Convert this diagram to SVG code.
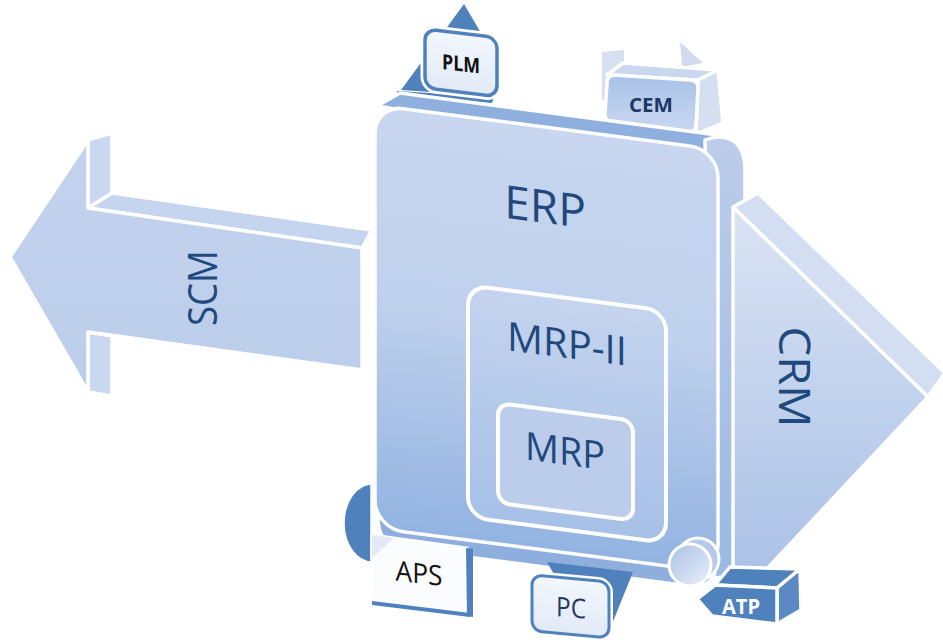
<svg xmlns="http://www.w3.org/2000/svg" width="943" height="644" viewBox="0 0 943 644">
<defs>
<style>
.w{stroke:#fff;stroke-width:3.5;stroke-linejoin:round}
.lbl{font-family:"Open Sans","Noto Sans","Liberation Sans",sans-serif;text-anchor:middle;fill:#1f497d}
.dk{fill:#4f81bd}
</style>
<linearGradient id="gFront" gradientUnits="userSpaceOnUse" x1="0" y1="105" x2="0" y2="530">
<stop offset="0" stop-color="#c8d6ef"/><stop offset="0.45" stop-color="#c0d1ed"/><stop offset="1" stop-color="#92b3e1"/>
</linearGradient>
<linearGradient id="gSide" gradientUnits="userSpaceOnUse" x1="0" y1="140" x2="0" y2="575">
<stop offset="0" stop-color="#bccdeb"/><stop offset="1" stop-color="#9ab9e4"/>
</linearGradient>
<linearGradient id="gMrp2" gradientUnits="userSpaceOnUse" x1="0" y1="273" x2="0" y2="505">
<stop offset="0" stop-color="#c5d4ee"/><stop offset="1" stop-color="#a6c0e7"/>
</linearGradient>
<linearGradient id="gCrm" gradientUnits="userSpaceOnUse" x1="0" y1="200" x2="0" y2="600">
<stop offset="0" stop-color="#dbe4f4"/><stop offset="1" stop-color="#a7bfe6"/>
</linearGradient>
<linearGradient id="gScm" x1="0" y1="0" x2="0" y2="1">
<stop offset="0" stop-color="#c3d3ee"/><stop offset="1" stop-color="#bccdeb"/>
</linearGradient>
<linearGradient id="gCard" x1="0" y1="0" x2="0" y2="1">
<stop offset="0" stop-color="#f3f7fd"/><stop offset="1" stop-color="#e2eaf7"/>
</linearGradient>
<linearGradient id="gCem" x1="0" y1="0" x2="0" y2="1">
<stop offset="0" stop-color="#a9c2e9"/><stop offset="1" stop-color="#cad8f0"/>
</linearGradient>
<linearGradient id="gDisc" x1="0" y1="0" x2="1" y2="1">
<stop offset="0" stop-color="#a9c0e6"/><stop offset="1" stop-color="#eaf0f9"/>
</linearGradient>
</defs>
<rect width="943" height="644" fill="#fff"/>

<g id="scm">
<polygon class="w" fill="#c9d8f0" points="88,140 112,133 112,200 88,208"/>
<polygon class="w" fill="#c9d8f0" points="88,332 112,336 112,396 88,392"/>
<polygon class="w" fill="#c6d5ef" points="88,208 112,193 372,230 362,248"/>
<polygon class="w" fill="url(#gScm)" points="10,257 88,140 88,208 362,248 362,370 88,332 88,392"/>
<text class="lbl" transform="translate(217,288) rotate(-90)" font-size="40" textLength="76" lengthAdjust="spacingAndGlyphs">SCM</text>
</g>

<g id="plm">
<polygon class="dk" points="401,90 464,4 498,62 492,96"/>
<polygon class="dk" points="397,91 494,97 492,103 397,98"/>
<g transform="matrix(1,0.12,0,1,0,-51)">
<rect x="425" y="29" width="72" height="59" rx="11" fill="url(#gCard)" stroke="#fff" stroke-width="9"/>
<rect x="425" y="29" width="72" height="59" rx="11" fill="url(#gCard)" stroke="#4f81bd" stroke-width="3.5"/>
<text x="461" y="67" font-family="'Open Sans','Noto Sans',sans-serif" font-weight="bold" font-size="21" text-anchor="middle" fill="#111" textLength="38" lengthAdjust="spacingAndGlyphs">PLM</text>
</g>
</g>

<g id="cem">
<polygon fill="#d6e0f1" points="602,52 624,50 624,100 602,100"/>
<polygon fill="#d0dbf0" points="680,42 682,67 703,63"/>
<polygon class="w" fill="#c9d7ef" points="607,75 623,63 718,70 698,80"/>
<polygon class="w" fill="#d5dff2" points="698,80 718,70 723,123 696,134"/>
<path class="w" fill="url(#gCem)" d="M615,75 L690,80 Q698,80 698,88 L696,126 Q695,134 687,133 L613,123 Q605,122 605,114 L607,83 Q607,75 615,75 Z"/>
<text x="651" y="112" font-family="'Open Sans','Noto Sans',sans-serif" font-weight="bold" font-size="20" text-anchor="middle" fill="#1f3864" textLength="44" lengthAdjust="spacingAndGlyphs">CEM</text>
</g>

<g id="aps-disc">
<path class="w" fill="#4f81bd" d="M372,483 A29 40 0 0 0 372,563 Z"/>
</g>

<g id="erp-back">
<path class="w" fill="#8fb0de" d="M377,106 L400,93 L725,136 Q745,140 745,160 L718,165 Z"/>
<path class="w" fill="url(#gSide)" d="M705,140 Q720,134 732,140 Q745,148 745,170 L745,548 Q745,574 725,577 L712,578 Z"/>
</g>

<g id="crm">
<polygon class="w" fill="#d3def2" points="733,207 758,193 945,373 928,397"/>
<polygon class="w" fill="url(#gCrm)" points="733,207 928,397 733,605"/>
<text class="lbl" transform="translate(779,377) rotate(90)" font-size="44" textLength="101" lengthAdjust="spacingAndGlyphs">CRM</text>
</g>

<g id="erp">
<g transform="matrix(1,0.13,0,1,0,-48.75)">
<path class="w" fill="#8eafdd" d="M378,500 L378,518 Q378,545 405,545 L690,545 Q716,545 716,518 L716,500 Z"/>
<rect class="w" x="375" y="105" width="343" height="423" rx="28" fill="url(#gFront)" stroke-width="4"/>
<text class="lbl" x="545" y="201" font-size="46">ERP</text>
<g id="mrp-ii">
<rect x="468" y="273" width="198" height="232" rx="20" fill="url(#gMrp2)" stroke="#fff" stroke-width="4"/>
<text class="lbl" x="567" y="333" font-size="40" textLength="120" lengthAdjust="spacingAndGlyphs">MRP-II</text>
</g>
<g id="mrp">
<rect x="498" y="387" width="135" height="100" rx="12" fill="#bccdeb" stroke="#fff" stroke-width="4"/>
<text class="lbl" x="565" y="440" font-size="39" textLength="80" lengthAdjust="spacingAndGlyphs">MRP</text>
</g>
</g>
</g>

<g id="aps">
<polygon fill="#fbfcfe" stroke="#fff" stroke-width="3" points="372,535 467,548 470,615 372,603"/>
<polygon fill="#e3eaf6" points="372,535 394,538 372,558"/>
<polygon class="dk" points="466,548 473,549 473,617 467,616"/>
<polygon class="dk" points="372,601 470,613 470,617 372,605"/>
<text transform="matrix(1,0.12,0,1,0,-50)" x="419" y="583" font-family="'Open Sans','Noto Sans',sans-serif" font-size="28" text-anchor="middle" fill="#111" textLength="47" lengthAdjust="spacingAndGlyphs">APS</text>
</g>

<g id="pc">
<polygon class="dk" points="547,562 633,572 612,624 604,590 560,585"/>
<g transform="matrix(1,0.09,0,1,0,-48)">
<rect x="532" y="575" width="77" height="56" rx="10" fill="url(#gCard)" stroke="#fff" stroke-width="8"/>
<rect x="532" y="575" width="77" height="56" rx="10" fill="url(#gCard)" stroke="#4f81bd" stroke-width="3"/>
<text x="571" y="614" font-family="'Open Sans','Noto Sans',sans-serif" font-size="27" text-anchor="middle" fill="#1f3864" textLength="30" lengthAdjust="spacingAndGlyphs">PC</text>
</g>
</g>

<g id="disc">
<circle cx="698" cy="559" r="21" fill="#b8cae9" stroke="#fff" stroke-width="3"/>
<circle cx="690" cy="565" r="21" fill="url(#gDisc)" stroke="#fff" stroke-width="3"/>
</g>

<g id="atp">
<polygon class="w" fill="#4f81bd" points="715,585 730,567 800,569 777,588"/>
<polygon class="w" fill="#5a89c3" points="777,588 800,569 801,610 777,624"/>
<polygon class="w" fill="#4f81bd" points="697,599 715,585 777,588 777,624 712,616"/>
<text x="741" y="614" font-family="'Open Sans','Noto Sans',sans-serif" font-weight="bold" font-size="21" text-anchor="middle" fill="#fff" textLength="38" lengthAdjust="spacingAndGlyphs">ATP</text>
</g>

<g id="connectors"/>
</svg>
